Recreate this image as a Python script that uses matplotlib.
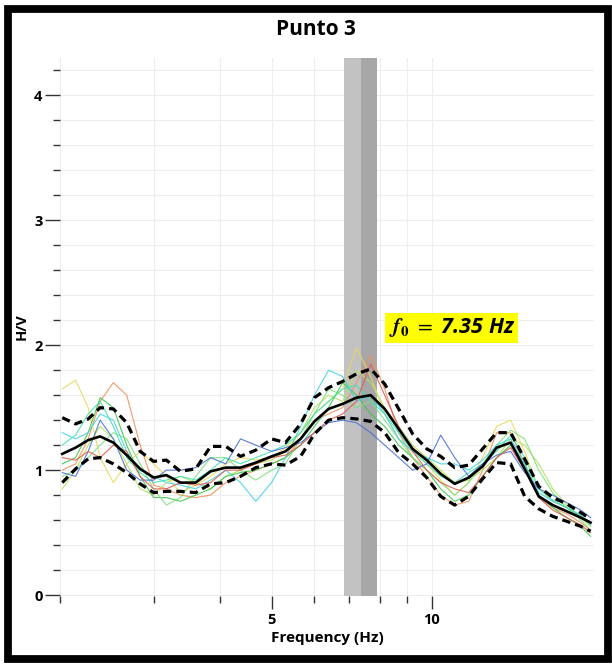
import matplotlib
matplotlib.use("Agg")
import matplotlib.pyplot as plt
from matplotlib.patches import Rectangle
from matplotlib.ticker import FixedLocator, NullFormatter, MultipleLocator

plt.rcParams["font.family"] = ["Open Sans", "DejaVu Sans"]
plt.rcParams["mathtext.fontset"] = "stix"

# frequency samples (Hz)
freq = [2.02, 2.14, 2.26, 2.38, 2.52, 2.67, 2.83, 3.00, 3.17, 3.37,
        3.60, 3.84, 4.10, 4.37, 4.67, 5.00, 5.31, 5.67, 6.02, 6.40,
        6.80, 7.22, 7.68, 8.16, 8.67, 9.21, 9.79, 10.40, 11.05, 11.74,
        12.47, 13.25, 14.08, 14.96, 15.90, 16.89, 17.95, 19.07, 19.90]

hv_mean = [1.13, 1.18, 1.24, 1.27, 1.22, 1.12, 1.01, 0.94, 0.96, 0.90,
           0.90, 0.99, 1.02, 1.02, 1.06, 1.11, 1.15, 1.25, 1.39, 1.49,
           1.53, 1.58, 1.60, 1.49, 1.33, 1.17, 1.08, 0.97, 0.89, 0.94,
           1.03, 1.18, 1.22, 1.01, 0.79, 0.72, 0.67, 0.62, 0.58]
hv_upper = [1.42, 1.37, 1.41, 1.50, 1.49, 1.38, 1.15, 1.07, 1.08, 0.99,
            1.01, 1.19, 1.19, 1.11, 1.16, 1.25, 1.22, 1.37, 1.58, 1.66,
            1.71, 1.77, 1.81, 1.69, 1.49, 1.29, 1.17, 1.11, 1.02, 1.04,
            1.17, 1.30, 1.30, 1.09, 0.87, 0.78, 0.73, 0.66, 0.61]
hv_lower = [0.90, 1.01, 1.09, 1.10, 1.05, 0.98, 0.89, 0.82, 0.83, 0.83,
            0.82, 0.89, 0.90, 0.95, 1.02, 1.05, 1.04, 1.11, 1.29, 1.40,
            1.42, 1.41, 1.39, 1.30, 1.14, 1.05, 0.94, 0.79, 0.72, 0.79,
            0.93, 1.06, 1.05, 0.79, 0.69, 0.63, 0.59, 0.55, 0.51]

# individual time windows
windows = [
    ("#f0905a", [1.00, 1.05, 1.25, 1.55, 1.70, 1.60, 1.20, 0.88, 0.85, 0.80,
                 0.78, 0.80, 0.90, 0.95, 1.00, 1.05, 1.10, 1.25, 1.40, 1.45,
                 1.50, 1.70, 1.92, 1.65, 1.30, 1.10, 0.95, 0.80, 0.72, 0.75,
                 1.00, 1.30, 1.30, 1.05, 0.78, 0.70, 0.65, 0.58, 0.52]),
    ("#e8d85a", [1.65, 1.72, 1.50, 1.10, 0.90, 1.05, 1.15, 1.05, 0.95, 0.82,
                 0.88, 0.95, 1.05, 1.10, 1.08, 1.10, 1.18, 1.30, 1.45, 1.55,
                 1.65, 1.98, 1.75, 1.45, 1.25, 1.15, 1.05, 0.92, 0.80, 0.90,
                 1.10, 1.35, 1.40, 1.15, 0.85, 0.75, 0.70, 0.62, 0.55]),
    ("#b5e35a", [0.85, 1.00, 1.20, 1.35, 1.25, 1.05, 0.85, 0.80, 0.90, 0.95,
                 0.90, 0.85, 0.95, 1.00, 1.05, 1.08, 1.15, 1.30, 1.50, 1.60,
                 1.55, 1.80, 1.70, 1.50, 1.35, 1.20, 1.10, 1.00, 0.90, 0.92,
                 1.00, 1.10, 1.25, 1.20, 1.05, 0.85, 0.72, 0.62, 0.55]),
    ("#3cc84a", [1.05, 1.10, 1.30, 1.58, 1.50, 1.20, 0.95, 0.78, 0.78, 0.75,
                 0.80, 0.85, 0.95, 0.98, 1.00, 1.05, 1.10, 1.20, 1.35, 1.50,
                 1.70, 1.60, 1.45, 1.35, 1.20, 1.10, 1.00, 0.85, 0.75, 0.80,
                 0.95, 1.10, 1.20, 1.05, 0.80, 0.70, 0.62, 0.55, 0.47]),
    ("#7ee07e", [0.95, 1.00, 1.10, 1.20, 1.30, 1.25, 1.05, 0.85, 0.72, 0.78,
                 0.95, 1.10, 1.10, 1.00, 0.92, 1.00, 1.05, 1.25, 1.45, 1.65,
                 1.60, 1.50, 1.55, 1.40, 1.25, 1.10, 1.00, 0.90, 0.80, 0.90,
                 1.05, 1.20, 1.32, 1.25, 1.00, 0.82, 0.70, 0.60, 0.52]),
    ("#45d3e6", [1.30, 1.25, 1.30, 1.45, 1.40, 1.15, 1.00, 0.95, 0.90, 0.88,
                 0.85, 0.92, 1.00, 0.90, 0.75, 0.90, 1.10, 1.35, 1.60, 1.80,
                 1.75, 1.55, 1.60, 1.45, 1.25, 1.15, 1.10, 1.05, 1.05, 1.00,
                 1.08, 1.20, 1.25, 1.05, 0.82, 0.75, 0.70, 0.63, 0.56]),
    ("#40e0b0", [1.20, 1.28, 1.45, 1.55, 1.35, 1.10, 0.98, 0.90, 0.92, 0.95,
                 0.92, 1.00, 1.10, 1.05, 1.10, 1.15, 1.20, 1.30, 1.45, 1.55,
                 1.65, 1.68, 1.55, 1.45, 1.30, 1.15, 1.05, 0.95, 0.90, 0.98,
                 1.05, 1.15, 1.28, 1.10, 0.85, 0.76, 0.70, 0.64, 0.58]),
    ("#4a6fd6", [0.98, 0.95, 1.15, 1.40, 1.25, 1.00, 0.92, 0.92, 1.00, 1.00,
                 1.02, 1.10, 1.05, 1.25, 1.20, 1.15, 1.18, 1.22, 1.30, 1.38,
                 1.40, 1.38, 1.30, 1.20, 1.10, 1.00, 1.05, 1.28, 1.10, 0.95,
                 1.05, 1.12, 1.15, 0.98, 0.85, 0.80, 0.74, 0.68, 0.62]),
    ("#e05a50", [1.10, 1.08, 1.15, 1.10, 1.20, 1.15, 0.95, 0.85, 0.85, 0.90,
                 0.88, 0.90, 1.00, 1.00, 1.05, 1.10, 1.12, 1.20, 1.30, 1.40,
                 1.45, 1.55, 1.85, 1.60, 1.35, 1.15, 1.00, 0.90, 0.85, 0.82,
                 0.95, 1.10, 1.18, 1.00, 0.78, 0.68, 0.62, 0.56, 0.50]),
]

f0 = 7.35
f0_low = 6.83
f0_high = 7.91

x_ticks = [2, 3, 4, 5, 6, 7, 8, 9, 10]
x_labels = {5: "5", 10: "10"}

fig = plt.figure(figsize=(6.12, 6.64), dpi=100)
ax = fig.add_axes([0.098, 0.1024, 0.8726, 0.8103])
ax.set_xscale("log")
ax.set_xlim(2.0, 20.2)
ax.set_ylim(-0.008, 4.30)

ax.axvspan(f0_low, f0, color="#c2c2c2", zorder=1, lw=0)
ax.axvspan(f0, f0_high, color="#a7a7aa", zorder=1, lw=0)

for color, vals in windows:
    ax.plot(freq, vals, color=color, lw=0.8, alpha=0.9, zorder=2)

ax.plot(freq, hv_mean, color="black", lw=1.9, zorder=4)
for band in (hv_upper, hv_lower):
    ax.plot(freq, band, color="black", lw=2.3, linestyle=(0, (2.6, 1.6)), zorder=4)

# ticks
ax.xaxis.set_major_locator(FixedLocator([5, 10]))
ax.xaxis.set_minor_locator(FixedLocator([t for t in x_ticks if t not in x_labels]))
ax.set_xticklabels([x_labels[5], x_labels[10]])
ax.xaxis.set_minor_formatter(NullFormatter())
ax.yaxis.set_major_locator(MultipleLocator(1))
ax.yaxis.set_minor_locator(MultipleLocator(0.2))
ax.set_yticks([0, 1, 2, 3, 4])
ax.set_yticklabels(["0", "1", "2", "3", "4"])

ax.tick_params(axis="x", which="major", length=9, width=1.0, color="#333333", pad=3)
ax.tick_params(axis="x", which="minor", length=5, width=1.0, color="#333333")
ax.tick_params(axis="y", which="major", length=11, width=1.0, color="#333333", pad=1.5)
ax.tick_params(axis="y", which="minor", length=5, width=1.0, color="#333333")
for lab in ax.get_xticklabels() + ax.get_yticklabels():
    lab.set_fontweight("bold")
    lab.set_fontsize(10.5)

ax.grid(which="both", color="#ededed", lw=0.8, zorder=0)
ax.set_axisbelow(True)
for sp in ax.spines.values():
    sp.set_visible(False)

ax.set_xlabel("Frequency (Hz)", fontsize=11, fontweight="bold", labelpad=3)
ax.set_ylabel("H/V", fontsize=10.5, fontweight="bold", labelpad=4)

fig.text(0.516, 0.955, "Punto 3", ha="center", va="center",
         fontsize=15, fontweight="bold")

ax.text(8.3, 2.14, r"$\mathbfit{f}_{\mathbf{0}}$ $=$ 7.35 Hz", ha="left", va="center",
        fontsize=15.5, fontweight="bold", style="italic", zorder=5,
        bbox=dict(facecolor="#ffff00", edgecolor="none", pad=2.5))

fig.patches.append(Rectangle((0.0131, 0.0068), 0.9796, 0.979, transform=fig.transFigure,
                             fill=False, edgecolor="black", lw=5.6))

fig.savefig("out.png", dpi=100)
